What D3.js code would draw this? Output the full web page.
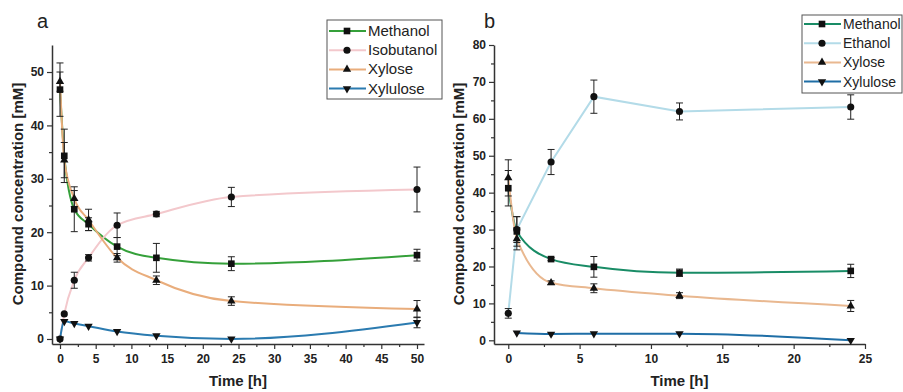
<!DOCTYPE html>
<html><head><meta charset="utf-8">
<script src="https://cdn.jsdelivr.net/npm/d3@7"></script>
<style>
html,body{margin:0;padding:0;background:#fff;}
svg{display:block;font-family:"Liberation Sans",Arial,sans-serif;}
</style></head>
<body><svg id="c" width="903" height="392"></svg>
<script>
// ---------- DATA ----------
const timeA = [0, 0.6, 2, 4, 8, 13.5, 24, 50];
const methanolA = [46.7, 34.3, 24.3, 21.5, 17.3, 15.2, 14.1, 15.7];
const methanolAErr = [5.0, 5.0, 4.2, 1.2, 1.7, 2.7, 1.3, 1.1];
const isobutanolA = [0, 4.7, 11.0, 15.2, 21.3, 23.4, 26.6, 28.0];
const isobutanolAErr = [0.3, 0.3, 1.5, 0.6, 2.3, 0.5, 1.8, 4.2];
const xyloseA = [48.2, 33.5, 26.3, 22.3, 15.2, 11.0, 7.1, 5.6];
const xyloseAErr = [1.8, 3.3, 1.5, 2.0, 0.8, 0.8, 0.8, 1.6];
const xyluloseA = [0, 3.3, 2.9, 2.4, 1.4, 0.6, 0, 3.1];
const xyluloseAErr = [0.2, 0.3, 0.3, 0.3, 0.3, 0.2, 0.2, 1.0];

const timeB = [0, 0.6, 3, 6, 12, 24];
const methanolB = [41.2, 29.5, 22.0, 19.9, 18.3, 18.8];
const methanolBErr = [4.8, 4.0, 0.4, 2.8, 1.0, 1.8];
const ethanolB = [7.3, 30.0, 48.3, 66.0, 62.0, 63.2];
const ethanolBErr = [1.3, 3.5, 3.4, 4.5, 2.3, 3.3];
const xyloseB = [44.0, 27.5, 15.6, 14.1, 12.1, 9.3];
const xyloseBErr = [4.9, 3.0, 0.5, 1.2, 0.8, 1.5];
const xyluloseB = [null, 2.0, 1.7, 1.8, 1.8, 0];
const xyluloseBErr = [0, 0.3, 0.3, 0.3, 0.3, 0.2];

const xTicksA = [0, 5, 10, 15, 20, 25, 30, 35, 40, 45, 50];
const yTicksA = [0, 10, 20, 30, 40, 50];
const xTicksB = [0, 5, 10, 15, 20, 25];
const yTicksB = [0, 10, 20, 30, 40, 50, 60, 70, 80];

const svg = d3.select("#c");
svg.append("rect").attr("width",903).attr("height",392).attr("fill","#fff");

function sym(kind){
  if(kind==="square") return d3.symbol(d3.symbolSquare, 44)();
  if(kind==="circle") return d3.symbol(d3.symbolCircle, 40)();
  return d3.symbol(d3.symbolTriangle, 30)();
}

function panel(cfg){
  const g = svg.append("g");
  const x = d3.scaleLinear().domain(cfg.xDom).range(cfg.xRange);
  const y = d3.scaleLinear().domain(cfg.yDom).range(cfg.yRange);

  const xMinor = cfg.xTicks.slice(0,-1).map((t,i)=> (t+cfg.xTicks[i+1])/2);
  const yMinor = cfg.yTicks.slice(0,-1).map((t,i)=> (t+cfg.yTicks[i+1])/2);

  g.append("g").attr("transform",`translate(0,${cfg.yRange[0]})`)
    .call(d3.axisBottom(x).tickValues(cfg.xTicks).tickSize(5).tickSizeOuter(0).tickPadding(5));
  g.append("g").attr("transform",`translate(0,${cfg.yRange[0]})`)
    .call(d3.axisBottom(x).tickValues(xMinor).tickSize(3).tickSizeOuter(0).tickFormat(""))
    .select(".domain").remove();
  g.append("g").attr("transform",`translate(${cfg.xRange[0]},0)`)
    .call(d3.axisLeft(y).tickValues(cfg.yTicks).tickSize(5).tickSizeOuter(0).tickPadding(3));
  g.append("g").attr("transform",`translate(${cfg.xRange[0]},0)`)
    .call(d3.axisLeft(y).tickValues(yMinor).tickSize(3).tickSizeOuter(0).tickFormat(""))
    .select(".domain").remove();
  g.selectAll(".domain").attr("stroke","#333").attr("stroke-width",1.5);
  g.selectAll(".tick line").attr("stroke","#333").attr("stroke-width",1.2);
  g.selectAll(".tick text").attr("font-family","Liberation Sans, Arial, sans-serif")
    .attr("font-size",12).attr("font-weight","bold").attr("fill","#222");

  g.append("text").attr("x",(cfg.xRange[0]+cfg.xRange[1])/2).attr("y",386)
    .attr("text-anchor","middle").attr("font-size",15).attr("font-weight","bold").attr("fill","#222")
    .text("Time [h]");
  g.append("text").attr("transform",`translate(${cfg.yTitleX},${cfg.yTitleY}) rotate(-90)`)
    .attr("text-anchor","middle").attr("font-size",15).attr("font-weight","bold").attr("fill","#222")
    .text("Compound concentration [mM]");
  g.append("text").attr("x",cfg.labelX).attr("y",28).attr("font-size",20).attr("fill","#222")
    .text(cfg.label);

  const seriesData = cfg.series.map(s=>({...s, pts: cfg.times.map((t,i)=>({t, v:s.values[i], e:s.errs[i]}))}));

  seriesData.forEach(s=>{
    const line = d3.line().x(d=>x(d.t)).y(d=>y(d.v)).curve(s.linear ? d3.curveLinear : d3.curveMonotoneX);
    g.append("path").datum(s.pts.filter(p=>p.v!==null)).attr("d",line)
      .attr("fill","none").attr("stroke",s.color).attr("stroke-width",2);
  });
  seriesData.forEach(s=>{
    const eg = g.append("g").attr("stroke","#222").attr("stroke-width",1);
    s.pts.filter(p=>p.v!==null && p.e>0.35).forEach(p=>{
      const cx = x(p.t), y1 = y(p.v+p.e), y2 = y(p.v-p.e);
      eg.append("line").attr("x1",cx).attr("x2",cx).attr("y1",y1).attr("y2",y2);
      eg.append("line").attr("x1",cx-3.5).attr("x2",cx+3.5).attr("y1",y1).attr("y2",y1);
      eg.append("line").attr("x1",cx-3.5).attr("x2",cx+3.5).attr("y1",y2).attr("y2",y2);
    });
  });
  seriesData.forEach(s=>{
    g.append("g").selectAll("path").data(s.pts.filter(p=>p.v!==null)).join("path")
      .attr("d",sym(s.marker))
      .attr("transform",p=>`translate(${x(p.t)},${y(p.v)})${s.marker==="down"?" rotate(180)":""}`)
      .attr("fill","#111");
  });

  const L = cfg.legend;
  const lg = g.append("g");
  lg.append("rect").attr("x",L.x).attr("y",L.y).attr("width",L.w).attr("height",L.h)
    .attr("fill","#fff").attr("stroke","#555").attr("stroke-width",1);
  seriesData.forEach((s,i)=>{
    const yy = L.row0 + i*L.dy;
    lg.append("line").attr("x1",L.x+2).attr("x2",L.x+39).attr("y1",yy).attr("y2",yy)
      .attr("stroke",s.color).attr("stroke-width",2);
    lg.append("path").attr("d",sym(s.marker))
      .attr("transform",`translate(${L.x+20},${yy})${s.marker==="down"?" rotate(180)":""}`).attr("fill","#111");
    lg.append("text").attr("x",L.x+41).attr("y",yy+5).attr("font-size",L.fs||15).attr("fill","#222").text(s.name);
  });
}

panel({
  xDom:[-1.12, 50.98], xRange:[52,424], yDom:[-0.94, 55.06], yRange:[344,45],
  xTicks:xTicksA, yTicks:yTicksA, times:timeA, label:"a", labelX:37, yTitleX:23, yTitleY:194,
  series:[
    {name:"Methanol", values:methanolA, errs:methanolAErr, color:"#35a03a", marker:"square"},
    {name:"Isobutanol", values:isobutanolA, errs:isobutanolAErr, color:"#f3c8cc", marker:"circle"},
    {name:"Xylose", values:xyloseA, errs:xyloseAErr, color:"#e9ad7c", marker:"up"},
    {name:"Xylulose", values:xyluloseA, errs:xyluloseAErr, color:"#2b7bb0", marker:"down"}
  ],
  legend:{x:327, y:20, w:115, h:79, row0:31, dy:19.2}
});

panel({
  xDom:[-1.0, 25], xRange:[494,865], yDom:[-1.0, 80], yRange:[344,45],
  xTicks:xTicksB, yTicks:yTicksB, times:timeB, label:"b", labelX:484, yTitleX:464, yTitleY:194,
  series:[
    {name:"Methanol", values:methanolB, errs:methanolBErr, color:"#198c66", marker:"square"},
    {name:"Ethanol", values:ethanolB, errs:ethanolBErr, color:"#b3dbe8", marker:"circle", linear:true},
    {name:"Xylose", values:xyloseB, errs:xyloseBErr, color:"#e9b890", marker:"up"},
    {name:"Xylulose", values:xyluloseB, errs:xyluloseBErr, color:"#1f6ea6", marker:"down"}
  ],
  legend:{x:802, y:15, w:100, h:78, row0:24, dy:19.2, fs:14}
});
</script></body></html>
